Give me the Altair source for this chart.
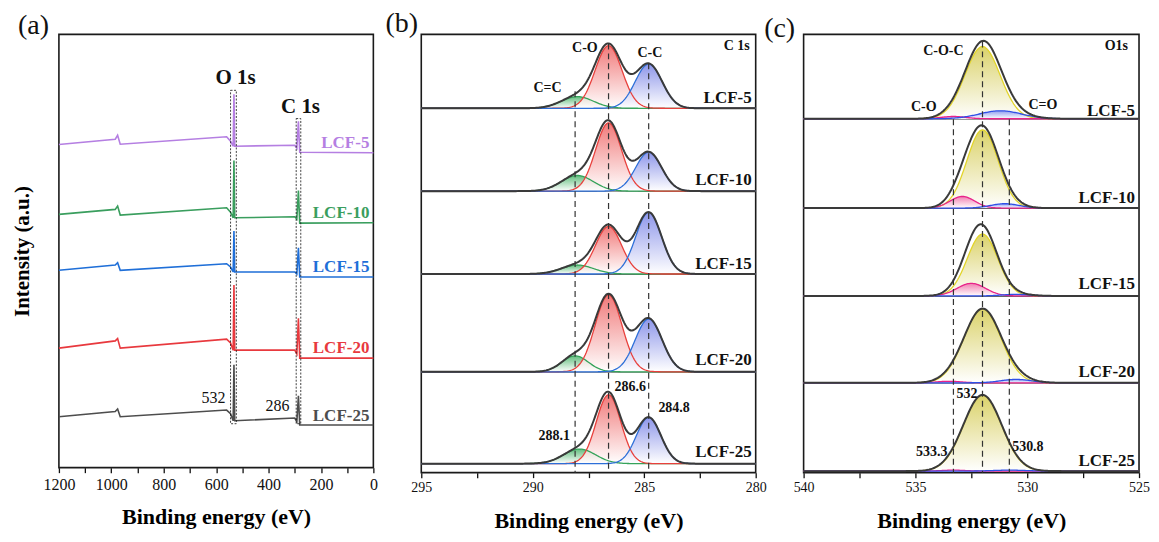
import altair as alt
import numpy as np
import pandas as pd

FONT = "Liberation Serif"

samples = ["LCF-5", "LCF-10", "LCF-15", "LCF-20", "LCF-25"]
survey_colors = ["#b57fe2", "#3a9e5e", "#1f6fd8", "#e8393e", "#4d4d4d"]

# ---------------- (a) survey spectra (stacked, a.u.) ----------------
survey_energy = [1200, 985, 976, 966, 560, 545, 535, 532, 529, 300, 292, 286, 281, 0]
survey_lcf5 = [323.7, 329, 333, 324, 331.5, 327, 322, 374, 322, 323, 320, 347, 316, 315.5]
survey_lcf10 = [253.7, 258.7, 262, 253, 260.3, 256, 250.3, 307.7, 250.3, 251.3, 249, 277.7, 245, 245.3]
survey_lcf15 = [197.7, 203, 205.3, 197.7, 204.3, 201, 196, 237, 196, 196, 194, 220.3, 191, 191]
survey_lcf20 = [119.7, 127, 129.3, 119.7, 128.7, 125, 117.7, 183, 117.7, 117.7, 114, 149.7, 109.7, 109.7]
survey_lcf25 = [51, 56.3, 58.7, 51, 57.7, 54, 47, 103, 47, 49.7, 46, 72, 42.7, 42.7]
survey_label_y = [325, 255, 201, 120, 52]

# dashed boxes around O 1s / C 1s
box_lo = [523, 277]
box_hi = [545, 294.5]
box_top = [378, 349.7]
box_bottom = [44, 44]

# ---------------- (b) C 1s fits ----------------
c1s_offset = [365, 282, 199, 101, 9]
cc2_center = [288.0, 288.0, 288.0, 288.1, 287.9]      # C=C
cc2_height = [11.7, 15.7, 9.0, 16.0, 14.6]
cc2_fwhm = [1.7, 1.7, 1.7, 1.4, 1.7]
co_center = [286.6, 286.6, 286.6, 286.6, 286.6]        # C-O
co_height = [62.7, 68.3, 47.7, 77.0, 69.0]
co_fwhm = [1.42, 1.37, 1.37, 1.42, 1.30]
cc_center = [284.8, 284.8, 284.8, 284.8, 284.8]        # C-C
cc_height = [44.3, 39.0, 61.7, 53.0, 46.3]
cc_fwhm = [1.42, 1.37, 1.37, 1.42, 1.30]
c1s_label_y = [375.3, 293, 208.7, 113, 20.3]

# ---------------- (c) O 1s fits ----------------
o1s_offset = [354.5, 265, 177, 90, 1.5]
coc_center = [532.0, 532.0, 532.0, 532.0, 532.0]       # C-O-C
coc_height = [72.3, 78.4, 62.0, 74.0, 76.0]
coc_fwhm = [1.85, 1.65, 1.6, 1.95, 2.0]
oco_center = [533.3, 532.9, 532.5, 533.5, 533.3]       # C-O
oco_height = [2.3, 11.7, 12.6, 1.5, 1.0]
oco_fwhm = [1.3, 1.3, 1.5, 1.3, 1.3]
ceo_center = [531.2, 531.0, 530.5, 530.5, 530.8]       # C=O
ceo_height = [8.0, 4.4, 1.6, 3.4, 1.0]
ceo_fwhm = [2.2, 1.5, 1.5, 1.6, 1.8]
o1s_label_y = [362, 274.7, 188.7, 101, 12]

WA, HA = 315, 434
WB, HB = 335, 439
WC, HC = 336, 439


def gauss(x, c, h, w):
    return h * np.exp(-4 * np.log(2) * (x - c) ** 2 / w ** 2)


def grad(top):
    return alt.Gradient(gradient="linear",
                        stops=[alt.GradientStop(color=top, offset=0),
                               alt.GradientStop(color="#ffffff", offset=1)],
                        x1=1, x2=1, y1=0, y2=1)


# ================= panel (a) =================
survey_vals = [survey_lcf5, survey_lcf10, survey_lcf15, survey_lcf20, survey_lcf25]
rows = []
for s, vals in zip(samples, survey_vals):
    for e, v in zip(survey_energy, vals):
        rows.append({"sample": s, "E": e, "I": v})
df_a = pd.DataFrame(rows)

sx_a = alt.Scale(domain=[0, 1200], reverse=True, nice=False, zero=False)
sy_a = alt.Scale(domain=[0, HA], nice=False, zero=False)
ax_a = alt.Axis(title="Binding energy (eV)", values=list(range(0, 1201, 100)), format="d",
                labelExpr="datum.value % 200 === 0 ? datum.label : ''",
                labelFontSize=16, titleFontSize=22, titleFontWeight="bold",
                tickSize=5, tickWidth=1.3, labelPadding=4, titlePadding=14,
                domain=False, labelFlush=False, labelOverlap=False, grid=False)
ay_a = alt.Axis(title="Intensity (a.u.)", labels=False, ticks=False, domain=False,
                titleFontSize=21, titleFontWeight="bold", titlePadding=26, grid=False)


def xa(field="E"):
    return alt.X(f"{field}:Q", scale=sx_a, axis=ax_a)


def ya(field="I"):
    return alt.Y(f"{field}:Q", scale=sy_a, axis=ay_a)


sample_color = alt.Color("sample:N", scale=alt.Scale(domain=samples, range=survey_colors), legend=None)
lines_a = alt.Chart(df_a).mark_line(strokeWidth=1.6).encode(x=xa(), y=ya(), color=sample_color)
df_box = pd.DataFrame({"lo": box_lo, "hi": box_hi, "top": box_top, "bot": box_bottom})
boxes_a = alt.Chart(df_box).mark_rect(fillOpacity=0, stroke="#111", strokeWidth=0.8,
                                      strokeDash=[2, 1.5]).encode(
    x=xa("lo"), x2="hi:Q", y=ya("top"), y2="bot:Q")
df_peaklab = pd.DataFrame({"E": [526, 278], "I": [390, 361], "t": ["O 1s", "C 1s"]})
peaklab_a = alt.Chart(df_peaklab).mark_text(font=FONT, fontSize=21, fontWeight="bold",
                                            color="#111").encode(x=xa(), y=ya(), text="t:N")
df_num_a = pd.DataFrame({"E": [610, 366], "I": [70, 62], "t": ["532", "286"]})
num_a = alt.Chart(df_num_a).mark_text(font=FONT, fontSize=16, color="#111").encode(
    x=xa(), y=ya(), text="t:N")
df_lab_a = pd.DataFrame({"sample": samples, "I": survey_label_y})
lab_a = alt.Chart(df_lab_a).mark_text(font=FONT, fontSize=17, fontWeight="bold", align="right").encode(
    x=alt.value(WA - 4), y=ya(), text="sample:N", color=sample_color)
tag_a = alt.Chart(pd.DataFrame({"t": ["(a)"]})).mark_text(font=FONT, fontSize=28, color="#111").encode(
    x=alt.value(-25.5), y=alt.value(-8), text="t:N")

panel_a = alt.layer(lines_a, boxes_a, peaklab_a, num_a, lab_a, tag_a).properties(width=WA, height=HA)


# ================= helper for fitted panels =================
def fit_panel(grid, offsets, comps, comp_lines, comp_fills, label_y, W, H, domain,
              tick_vals, tag, tag_x, tag_y, dash_df, anno_df, corner, sep_n=4):
    rows, env = [], []
    for i, s in enumerate(samples):
        tot = np.zeros_like(grid)
        for name, cen, hei, fw in comps:
            g = gauss(grid, cen[i], hei[i], fw[i])
            tot = tot + g
            for e, v in zip(grid, g):
                rows.append({"sample": s, "comp": name, "E": float(e),
                             "base": offsets[i], "top": offsets[i] + float(v)})
        for e, v in zip(grid, tot):
            env.append({"sample": s, "E": float(e), "top": offsets[i] + float(v)})
    dfc = pd.DataFrame(rows)
    dfe = pd.DataFrame(env)

    sx = alt.Scale(domain=domain, reverse=True, nice=False, zero=False)
    sy = alt.Scale(domain=[0, H], nice=False, zero=False)
    ax = alt.Axis(title="Binding energy (eV)", values=tick_vals,
                  labelExpr="datum.value % 5 === 0 ? format(datum.value, 'd') : ''",
                  labelFontSize=14, titleFontSize=22, titleFontWeight="bold",
                  tickSize=5, tickWidth=1.3, labelPadding=3, titlePadding=16,
                  domain=False, labelFlush=False, labelOverlap=False, grid=False)

    def X(f="E"):
        return alt.X(f"{f}:Q", scale=sx, axis=ax)

    def Y(f="top"):
        return alt.Y(f"{f}:Q", scale=sy, axis=None)

    layers = []
    sep = pd.DataFrame({"y": offsets[:sep_n]})
    layers.append(alt.Chart(sep).mark_rule(color="#333", strokeWidth=1.5).encode(
        y=Y("y"), x=alt.value(0), x2=alt.value(W)))
    names = [c[0] for c in comps]
    for name, fill in zip(names, comp_fills):
        layers.append(alt.Chart(dfc).transform_filter(alt.datum.comp == name).mark_area(
            color=grad(fill), opacity=0.85).encode(
            x=X(), y=Y(), y2="base:Q", detail="sample:N"))
    for name, lc in zip(names, comp_lines):
        layers.append(alt.Chart(dfc).transform_filter(alt.datum.comp == name).mark_line(
            strokeWidth=1.3, color=lc).encode(x=X(), y=Y(), detail="sample:N"))
    layers.append(alt.Chart(dfe).mark_line(strokeWidth=2, color="#3a3a3a").encode(
        x=X(), y=Y(), detail="sample:N"))
    layers.append(alt.Chart(dash_df).mark_rule(color="#333", strokeWidth=1.2, strokeDash=[6, 4]).encode(
        x=X(), y=Y("ytop"), y2=alt.Y2("ybot:Q")))
    layers.append(alt.Chart(anno_df).mark_text(font=FONT, fontSize=14, fontWeight="bold",
                                               color="#111").encode(x=X(), y=Y("y"), text="t:N"))
    layers.append(alt.Chart(pd.DataFrame({"t": [corner[0]], "y": [corner[1]]})).mark_text(
        font=FONT, fontSize=14, fontWeight="bold", color="#111", align="right").encode(
        x=alt.value(W - corner[2]), y=Y("y"), text="t:N"))
    layers.append(alt.Chart(pd.DataFrame({"sample": samples, "y": label_y})).mark_text(
        font=FONT, fontSize=17, fontWeight="bold", color="#111", align="right").encode(
        x=alt.value(W - 4), y=Y("y"), text="sample:N"))
    layers.append(alt.Chart(pd.DataFrame({"t": [tag]})).mark_text(
        font=FONT, fontSize=28, color="#111").encode(
        x=alt.value(tag_x), y=alt.value(tag_y), text="t:N"))
    return alt.layer(*layers).properties(width=W, height=H)


grid_b = np.round(np.arange(280.0, 295.0001, 0.05), 2)
dash_b = pd.DataFrame({"E": [288.1, 286.6, 284.8], "ytop": [382, 430, 410], "ybot": [0, 0, 0]})
anno_b = pd.DataFrame({"E": [287.66, 284.75, 289.34, 285.63, 283.66, 289.04],
                       "y": [425.3, 420.3, 385.3, 85.3, 64.3, 37],
                       "t": ["C-O", "C-C", "C=C", "286.6", "284.8", "288.1"]})
panel_b = fit_panel(
    grid_b, c1s_offset,
    [("C=C", cc2_center, cc2_height, cc2_fwhm),
     ("C-O", co_center, co_height, co_fwhm),
     ("C-C", cc_center, cc_height, cc_fwhm)],
    ["#35a35a", "#e8403c", "#2d6fd8"], ["#48b368", "#ee6262", "#7a84e6"],
    c1s_label_y, WB, HB, [280, 295], [280 + 2.5 * k for k in range(7)],
    "(b)", -19.5, -10, dash_b, anno_b, ("C 1s", 427, 6))

grid_c = np.round(np.arange(525.0, 540.0001, 0.05), 2)
dash_c = pd.DataFrame({"E": [533.3, 532.0, 530.8], "ytop": [354, 432, 354], "ybot": [0, 0, 0]})
anno_c = pd.DataFrame({"E": [533.75, 534.63, 529.3, 532.69, 534.27, 529.97],
                       "y": [422, 366, 368.7, 78.7, 20.3, 25.3],
                       "t": ["C-O-C", "C-O", "C=O", "532", "533.3", "530.8"]})
panel_c = fit_panel(
    grid_c, o1s_offset,
    [("C-O-C", coc_center, coc_height, coc_fwhm),
     ("C-O", oco_center, oco_height, oco_fwhm),
     ("C=O", ceo_center, ceo_height, ceo_fwhm)],
    ["#e2d42a", "#e8238a", "#3050e6"], ["#d4ca50", "#f06aa8", "#7d8ef0"],
    o1s_label_y, WC, HC, [525, 540], [525 + 2.5 * k for k in range(7)],
    "(c)", -24, -5.5, dash_c, anno_c, ("O1s", 427, 11))

chart = alt.hconcat(panel_a, panel_b, panel_c, spacing=48, bounds="flush").resolve_scale(
    color="independent"
).properties(
    padding={"left": 3, "top": 1, "right": 0, "bottom": 0}
).configure_view(stroke="#1a1a1a", strokeWidth=1.6).configure_axis(
    labelFont=FONT, titleFont=FONT, labelColor="#111", titleColor="#000",
    tickColor="#111", grid=False)

chart.save("out.html", embed_options={"renderer": "svg", "actions": False})
